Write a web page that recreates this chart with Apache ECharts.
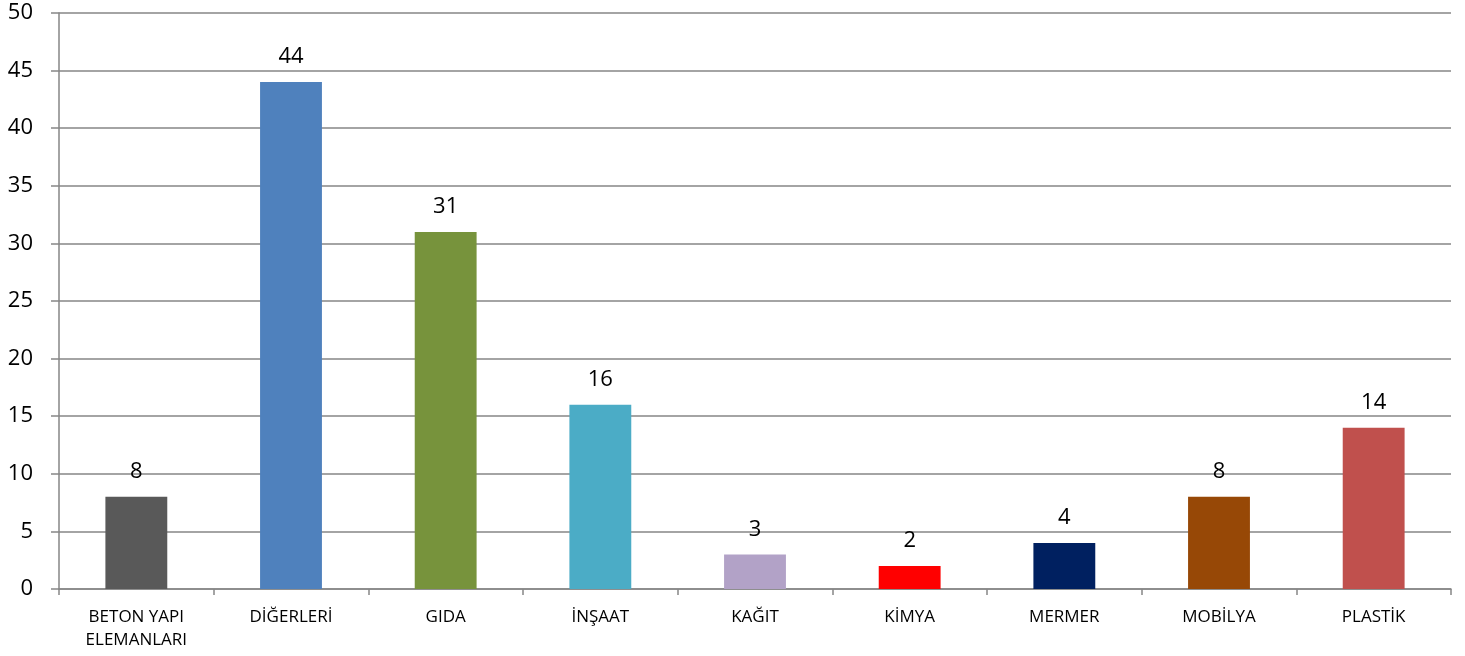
<!DOCTYPE html>
<html>
<head>
<meta charset="utf-8">
<script src="https://cdn.jsdelivr.net/npm/echarts@6/dist/echarts.min.js"></script>
</head>
<body style="margin:0;background:#fff">
<div id="chart" style="width:1465px;height:656px"></div>
<script>
var categories = ['BETON YAPI\nELEMANLARI', 'DİĞERLERİ', 'GIDA', 'İNŞAAT', 'KAĞIT', 'KİMYA', 'MERMER', 'MOBİLYA', 'PLASTİK'];
var values = [8, 44, 31, 16, 3, 2, 4, 8, 14];
var colors = ['#595959', '#4f81bd', '#77933c', '#4bacc6', '#b2a2c7', '#ff0000', '#002060', '#974806', '#c0504d'];

var chart = echarts.init(document.getElementById('chart'));
var font = '"Open Sans", "DejaVu Sans", sans-serif';
chart.setOption({
    animation: false,
    grid: { left: 59, right: 14, top: 13, bottom: 67 },
    xAxis: {
        type: 'category',
        data: categories,
        axisLine: { lineStyle: { color: '#868686', width: 1.5 } },
        axisTick: { show: true, length: 6, lineStyle: { color: '#868686', width: 1.5 } },
        axisLabel: { color: '#000', fontSize: 17, fontFamily: font, margin: 17, lineHeight: 23, interval: 0 }
    },
    yAxis: {
        type: 'value',
        min: 0,
        max: 50,
        interval: 5,
        axisLine: { show: true, lineStyle: { color: '#868686', width: 1.5 } },
        axisTick: { show: true, length: 8, lineStyle: { color: '#868686', width: 1.5 } },
        splitLine: { lineStyle: { color: '#868686', width: 1.5 } },
        axisLabel: { color: '#000', fontSize: 22, fontFamily: font, margin: 26 }
    },
    series: [{
        type: 'bar',
        barWidth: '40%',
        data: values.map(function (v, i) { return { value: v, itemStyle: { color: colors[i] } }; }),
        label: { show: true, position: 'top', distance: 14, color: '#000', fontSize: 22, fontFamily: font }
    }]
});
</script>
</body>
</html>
